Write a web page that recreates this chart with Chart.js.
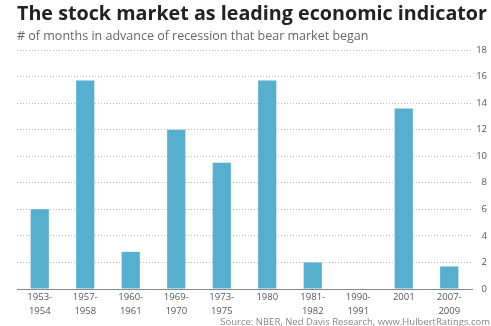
<!DOCTYPE html>
<html lang="en">
<head>
    <meta charset="UTF-8">
    <title>The stock market as leading economic indicator</title>
    <script src="https://cdn.jsdelivr.net/npm/chart.js"></script>
    <style>
        body { margin: 0; background: #ffffff; }
        .wrap { position: relative; width: 491px; height: 326px; }
        .source { position: absolute; right: 1px; top: 315px; font: 9.5px "Open Sans", sans-serif; color: #888; white-space: nowrap; }
    </style>
</head>
<body>
    <div class="wrap">
        <canvas id="grafico" width="491" height="326"></canvas>
        <div class="source">Source: NBER, Ned Davis Research, www.HulbertRatings.com</div>
    </div>

    <script>
        // Periodos de recesion
        const periodos = [
            ['1953-', '1954'], ['1957-', '1958'], ['1960-', '1961'], ['1969-', '1970'],
            ['1973-', '1975'], '1980', ['1981-', '1982'], ['1990-', '1991'], '2001', ['2007-', '2009']
        ];
        // Meses de anticipacion del mercado bajista
        const meses = [6, 15.7, 2.8, 12, 9.5, 15.7, 2, 0, 13.6, 1.7];
        const ticksY = [0, 2, 4, 6, 8, 10, 12, 14, 16, 18];

        const ctx = document.getElementById('grafico').getContext('2d');
        new Chart(ctx, {
            type: 'bar',
            data: {
                labels: periodos,
                datasets: [{
                    data: meses,
                    backgroundColor: '#56afcf',
                    barPercentage: 0.4,
                    categoryPercentage: 1
                }]
            },
            options: {
                responsive: false,
                animation: false,
                layout: { padding: { left: 17, right: 4, top: 2, bottom: 0 } },
                plugins: {
                    legend: { display: false },
                    tooltip: { enabled: false },
                    title: {
                        display: true,
                        text: 'The stock market as leading economic indicator',
                        align: 'start',
                        color: '#222',
                        font: { family: 'Open Sans', size: 20, weight: 'bold' },
                        padding: { top: 0, bottom: 0 }
                    },
                    subtitle: {
                        display: true,
                        text: '# of months in advance of recession that bear market began',
                        align: 'start',
                        color: '#666',
                        font: { family: 'Open Sans', size: 12.5 },
                        padding: { top: 3, bottom: 6 }
                    }
                },
                scales: {
                    x: {
                        grid: { display: false, drawTicks: false },
                        border: { display: true, color: '#888', width: 1 },
                        afterFit: (axis) => { axis.height = 37; },
                        ticks: {
                            color: '#555',
                            font: { family: 'Open Sans', size: 9.5, lineHeight: 1.4 },
                            maxRotation: 0,
                            autoSkip: false,
                            padding: 2
                        }
                    },
                    y: {
                        position: 'right',
                        min: 0,
                        max: 18,
                        afterBuildTicks: (axis) => { axis.ticks = ticksY.map(v => ({ value: v })); },
                        afterFit: (axis) => { axis.width = 15; },
                        grid: { color: '#bbb', drawTicks: false },
                        border: { display: false, dash: [1, 2] },
                        ticks: {
                            color: '#555',
                            font: { family: 'Open Sans', size: 9.5 },
                            crossAlign: 'far',
                            padding: 4
                        }
                    }
                }
            }
        });
    </script>
</body>
</html>
